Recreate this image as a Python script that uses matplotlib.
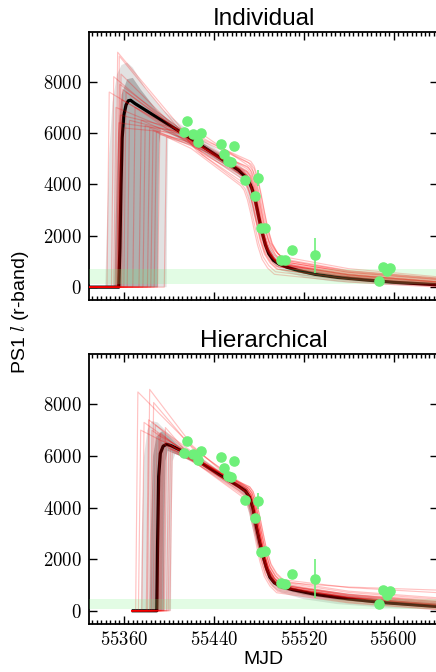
import matplotlib
matplotlib.use("Agg")
import matplotlib.pyplot as plt
from matplotlib.ticker import MultipleLocator, FuncFormatter

plt.rcParams["font.family"] = ["Liberation Sans", "DejaVu Sans"]
plt.rcParams["mathtext.fontset"] = "cm"

# ---------------- PS1 r-band photometry ----------------
IND_MJD = [55413.3, 55416.4, 55421.7, 55425.8, 55428.8, 55446.6, 55449.5, 55452.4,
           55455.5, 55458.4, 55467.9, 55476.8, 55479.7, 55482.1, 55485.7, 55499.9,
           55503.5, 55509.3, 55530.3, 55587.3, 55590.4, 55593.8, 55596.8]
IND_FLUX = [6040, 6470, 5950, 5660, 5990, 5570, 5200, 4900, 4880, 5510, 4190, 3560,
            4250, 2300, 2320, 1070, 1040, 1430, 1235, 255, 780, 610, 740]
IND_ERR = [120, 120, 120, 120, 120, 130, 130, 130, 130, 130, 140, 150,
           300, 120, 120, 120, 120, 120, 670, 110, 110, 110, 110]

HIER_MJD = IND_MJD
HIER_FLUX = [6120, 6575, 6085, 5825, 6200, 5950, 5540, 5240, 5180, 5800, 4285, 3585,
             4250, 2265, 2305, 1075, 1035, 1425, 1245, 260, 800, 620, 760]
HIER_ERR = [120, 120, 120, 120, 120, 130, 130, 130, 130, 130, 140, 150,
            310, 120, 120, 120, 120, 120, 760, 110, 110, 110, 110]

# Background flux level band (low, high)
IND_BAND = (130, 700)
HIER_BAND = (65, 465)

# ---------------- Median model light curves ----------------
IND_MED_T = [55355.5, 55356.5, 55357.5, 55358.5, 55360, 55362, 55364, 55366, 55370,
             55390, 55412, 55440, 55462, 55467, 55471, 55474, 55477, 55480, 55483,
             55486, 55489, 55493, 55498, 55505, 55515, 55530, 55550, 55575, 55600, 55640]
IND_MED_F = [0, 1500, 4000, 5800, 6700, 7100, 7260, 7280, 7150,
             6600, 6000, 5200, 4560, 4350, 4150, 3850, 3400, 2750, 2150,
             1650, 1300, 1050, 900, 780, 650, 500, 380, 280, 190, 90]

HIER_MED_T = [55389.3, 55390, 55391, 55392.5, 55395, 55398, 55402, 55415, 55430, 55445,
              55462, 55468, 55472, 55475, 55478, 55481, 55484, 55487, 55490, 55494,
              55500, 55510, 55530, 55560, 55590, 55640]
HIER_MED_F = [0, 2500, 5200, 6100, 6380, 6450, 6400, 6120, 5700, 5280,
              4830, 4650, 4400, 3950, 3250, 2650, 2100, 1650, 1300, 1080,
              940, 820, 640, 460, 320, 160]

# ---------------- Credible envelopes (upper / lower edges) ----------------
IND_95_UP_T = [55343.5, 55345, 55347, 55350, 55354, 55358, 55363, 55368, 55380, 55395,
               55410, 55440, 55462, 55470, 55476, 55482, 55488, 55495, 55505, 55520,
               55550, 55600, 55640]
IND_95_UP_F = [0, 2500, 5200, 7200, 8300, 8650, 8750, 8550, 7700, 6900,
               6350, 5450, 4800, 4450, 3700, 2500, 1700, 1200, 950, 780,
               560, 330, 230]
IND_95_LO_T = [55398, 55398.5, 55399.5, 55420, 55440, 55462, 55468, 55474, 55480, 55486,
               55492, 55500, 55520, 55550, 55600, 55640]
IND_95_LO_F = [0, 3000, 5800, 5500, 4950, 4300, 4000, 3000, 2200, 1400,
               950, 650, 380, 200, 80, 40]

IND_68_UP_T = [55351.5, 55353, 55355, 55358, 55363, 55368, 55375, 55390, 55410, 55440,
               55462, 55470, 55476, 55482, 55488, 55495, 55505, 55520, 55550, 55600, 55640]
IND_68_UP_F = [0, 3000, 6000, 7500, 8100, 8150, 7700, 6850, 6200, 5330,
               4680, 4300, 3550, 2400, 1600, 1100, 850, 680, 470, 250, 160]
IND_68_LO_T = [55390, 55390.5, 55391.5, 55393, 55400, 55420, 55440, 55462, 55470, 55476,
               55482, 55488, 55495, 55505, 55520, 55550, 55600, 55640]
IND_68_LO_F = [0, 3000, 5600, 6150, 6000, 5550, 5050, 4420, 4100, 3300,
               2250, 1400, 950, 700, 520, 330, 140, 70]

HIER_95_UP_T = [55375, 55376, 55378, 55381, 55385, 55390, 55398, 55410, 55430, 55445,
                55462, 55470, 55476, 55482, 55488, 55495, 55505, 55520, 55550, 55600, 55640]
HIER_95_UP_F = [0, 3000, 6000, 7000, 7350, 7300, 6950, 6450, 5900, 5450,
                5000, 4800, 3900, 2700, 1800, 1250, 1050, 900, 720, 480, 380]
HIER_95_LO_T = [55402, 55402.5, 55403.5, 55406, 55415, 55430, 55445, 55462, 55468, 55474,
                55480, 55486, 55492, 55500, 55520, 55550, 55600, 55640]
HIER_95_LO_F = [0, 3500, 5800, 6100, 5950, 5550, 5100, 4650, 4400, 3300,
                2300, 1500, 950, 700, 450, 260, 100, 50]

HIER_68_UP_T = [55383, 55384, 55386, 55389, 55394, 55400, 55410, 55430, 55445, 55462,
                55470, 55476, 55482, 55488, 55495, 55505, 55520, 55550, 55600, 55640]
HIER_68_UP_F = [0, 3000, 6000, 6750, 6960, 6750, 6350, 5800, 5370, 4920,
                4720, 3800, 2600, 1700, 1150, 950, 800, 620, 400, 280]
HIER_68_LO_T = [55395.5, 55396, 55397, 55399, 55410, 55430, 55445, 55462, 55468, 55474,
                55480, 55486, 55492, 55500, 55520, 55550, 55600, 55640]
HIER_68_LO_F = [0, 3500, 5800, 6200, 6000, 5600, 5200, 4750, 4520, 3500,
                2450, 1600, 1100, 850, 620, 420, 240, 120]

# ---------------- Posterior draws ----------------
# explosion time, peak flux, plateau knee (time, flux), plateau end (time, flux),
# flux after the drop, flux at the end of the tail
IND_T0 = [55345.0, 55349.0, 55351.0, 55352.5, 55353.5, 55354.0, 55354.5, 55355.0,
          55355.5, 55356.0, 55357.0, 55358.0, 55360.0, 55363.0, 55368.0, 55373.5,
          55377.0, 55381.0, 55384.0, 55387.0, 55390.0, 55396.0]
IND_FPK = [7600, 8200, 7000, 9150, 6400, 9000, 7900, 6700, 8300, 7300, 7700,
           6200, 7600, 6500, 7000, 6500, 6300, 6200, 6100, 6050, 5950, 5850]
IND_TKN = [55420, 55425, 55420, 55430, 55430, 55425, 55420, 55420, 55430, 55420, 55425,
           55420, 55420, 55420, 55420, 55420, 55420, 55420, 55420, 55420, 55420, 55420]
IND_FKN = [5700, 5450, 5800, 5200, 5950, 5300, 5850, 6050, 5150, 5800, 5600,
           5950, 5700, 5900, 5550, 5650, 5700, 5500, 5400, 5600, 5650, 5550]
IND_TEND = [55468, 55470, 55466, 55469, 55472, 55467, 55470, 55471, 55465, 55468, 55470,
            55473, 55467, 55473, 55466, 55469, 55471, 55467, 55464, 55470, 55468, 55469]
IND_FEND = [4400, 4500, 4300, 4250, 4700, 4050, 4600, 4850, 4000, 4450, 4350,
            4900, 4500, 4800, 4200, 4550, 4650, 4400, 3950, 4700, 4300, 4500]
IND_FTAIL = [900, 1000, 800, 950, 1100, 700, 850, 1000, 600, 900, 800,
             1050, 950, 1050, 700, 900, 1000, 800, 500, 1200, 850, 900]
IND_FLAST = [200, 300, 120, 250, 350, 50, 180, 300, 30, 200, 150,
             350, 220, 320, 80, 200, 280, 100, 0, 400, 160, 200]

HIER_T0 = [55370.5, 55373.0, 55376.0, 55380.0, 55381.0, 55383.0, 55384.5, 55386.0,
           55387.5, 55389.0, 55390.0, 55390.5, 55391.5, 55392.5, 55393.5, 55395.0,
           55396.0, 55398.0, 55399.5, 55401.0]
HIER_FPK = [8480, 7000, 7300, 7400, 8580, 7000, 8070, 7200, 6900, 6800,
            6700, 6900, 6600, 6500, 6450, 7100, 6350, 6300, 6250, 6150]
HIER_TKN = [55421, 55420, 55420, 55421, 55421, 55420, 55421, 55420, 55420, 55420,
            55420, 55420, 55420, 55420, 55420, 55420, 55420, 55420, 55420, 55420]
HIER_FKN = [6350, 6000, 6000, 6150, 6400, 5850, 6300, 6050, 6000, 6100,
            5900, 5900, 6000, 5850, 6050, 5950, 5900, 5950, 5800, 5850]
HIER_TEND = [55470, 55471, 55470, 55469, 55468, 55472, 55471, 55468, 55470, 55470,
             55469, 55469, 55471, 55466, 55470, 55467, 55472, 55468, 55469, 55467]
HIER_FEND = [4700, 4750, 4700, 4600, 4600, 4800, 4750, 4550, 4700, 4700,
             4650, 4600, 4750, 4400, 4650, 4500, 4800, 4500, 4600, 4450]
HIER_FTAIL = [1000, 1100, 1000, 950, 900, 1150, 1050, 900, 1000, 1000,
              950, 950, 1100, 700, 950, 800, 1200, 850, 900, 750]
HIER_FLAST = [300, 450, 400, 250, 250, 500, 350, 150, 300, 350,
              250, 200, 800, 40, 220, 100, 700, 120, 200, 60]

RISE_DAYS = 2.0
# Shape of the post-plateau drop: days after plateau end, fraction of the drop remaining
DROP_DT = [0, 3, 6, 9, 12, 15, 19, 24, 30]
DROP_FRAC = [1, 0.95, 0.84, 0.68, 0.5, 0.33, 0.17, 0.07, 0]
TAIL_T = [55560, 55640]

XLIM = (55329, 55640)
YLIM = (-500, 9950)

RED = "#ff0000"
GREEN = "#6ef07a"
GRAY_LIGHT = "#e2e2e2"
GRAY_DARK = "#b0b0b0"


def draw_vertices(tstart, t0, fpk, tkn, fkn, tend, fend, ftail, flast):
    ts = [tstart, t0, t0 + RISE_DAYS, tkn, tend]
    fs = [0, 0, fpk, fkn, fend]
    for dt, fr in zip(DROP_DT[1:], DROP_FRAC[1:]):
        ts.append(tend + dt)
        fs.append(ftail + fr * (fend - ftail))
    ts += TAIL_T
    fs += [flast + 0.4 * (ftail - flast), flast]
    return ts, fs


def envelope(ax, up_t, up_f, lo_t, lo_f, color, z):
    xs = list(up_t) + list(lo_t[::-1])
    ys = list(up_f) + list(lo_f[::-1])
    ax.fill(xs, ys, color=color, lw=0, zorder=z)


def panel(ax, title, mjd, flux, err, band, med_t, med_f, env95, env68,
          draws, tstart):
    envelope(ax, *env95, GRAY_LIGHT, 1)
    envelope(ax, *env68, GRAY_DARK, 1.1)
    ax.plot(med_t, med_f, color="black", lw=2.3, zorder=2, solid_capstyle="butt")
    for p in zip(*draws):
        ts, fs = draw_vertices(tstart, *p)
        ax.plot(ts, fs, color=RED, lw=0.85, alpha=0.24, zorder=3)
    ax.axhspan(band[0], band[1], color=GREEN, alpha=0.2, lw=0, zorder=4)
    ax.errorbar(mjd, flux, yerr=err, fmt="o", ms=6.6, color=GREEN, mec=GREEN,
                ecolor=GREEN, elinewidth=1.2, capsize=0, zorder=5)

    ax.set_xlim(*XLIM)
    ax.set_ylim(*YLIM)
    ax.set_title(title, fontsize=17.5, pad=5)
    ax.xaxis.set_major_locator(MultipleLocator(80))
    ax.xaxis.set_minor_locator(MultipleLocator(4))
    ax.yaxis.set_major_locator(MultipleLocator(2000))
    ax.tick_params(which="both", direction="in", top=True, right=True, width=1)
    ax.tick_params(which="major", length=6, labelsize=13.5, pad=5)
    ax.tick_params(which="minor", length=3)
    ax.yaxis.set_major_formatter(FuncFormatter(lambda v, p: r"$%d$" % v))
    ax.xaxis.set_major_formatter(FuncFormatter(lambda v, p: r"$%d$" % v))
    for s in ax.spines.values():
        s.set_linewidth(1.3)


fig = plt.figure(figsize=(4.36, 6.72), dpi=100)
ax1 = fig.add_axes([0.2041, 0.5536, 0.8016, 0.3992])
ax2 = fig.add_axes([0.2041, 0.0719, 0.8016, 0.4013])

panel(ax1, "Individual", IND_MJD, IND_FLUX, IND_ERR, IND_BAND,
      [XLIM[0]] + IND_MED_T, [0] + IND_MED_F,
      (IND_95_UP_T, IND_95_UP_F, IND_95_LO_T, IND_95_LO_F),
      (IND_68_UP_T, IND_68_UP_F, IND_68_LO_T, IND_68_LO_F),
      (IND_T0, IND_FPK, IND_TKN, IND_FKN, IND_TEND, IND_FEND, IND_FTAIL, IND_FLAST),
      XLIM[0])
panel(ax2, "Hierarchical", HIER_MJD, HIER_FLUX, HIER_ERR, HIER_BAND,
      [55367] + HIER_MED_T, [0] + HIER_MED_F,
      (HIER_95_UP_T, HIER_95_UP_F, HIER_95_LO_T, HIER_95_LO_F),
      (HIER_68_UP_T, HIER_68_UP_F, HIER_68_LO_T, HIER_68_LO_F),
      (HIER_T0, HIER_FPK, HIER_TKN, HIER_FKN, HIER_TEND, HIER_FEND, HIER_FTAIL, HIER_FLAST),
      55367)

ax1.tick_params(labelbottom=False)
ax2.set_xlabel("MJD", fontsize=14, labelpad=2)
fig.text(0.046, 0.536, r"PS1 $l$ (r-band)", rotation=90, ha="center", va="center",
         fontsize=14)

fig.savefig("out.png", dpi=100)
